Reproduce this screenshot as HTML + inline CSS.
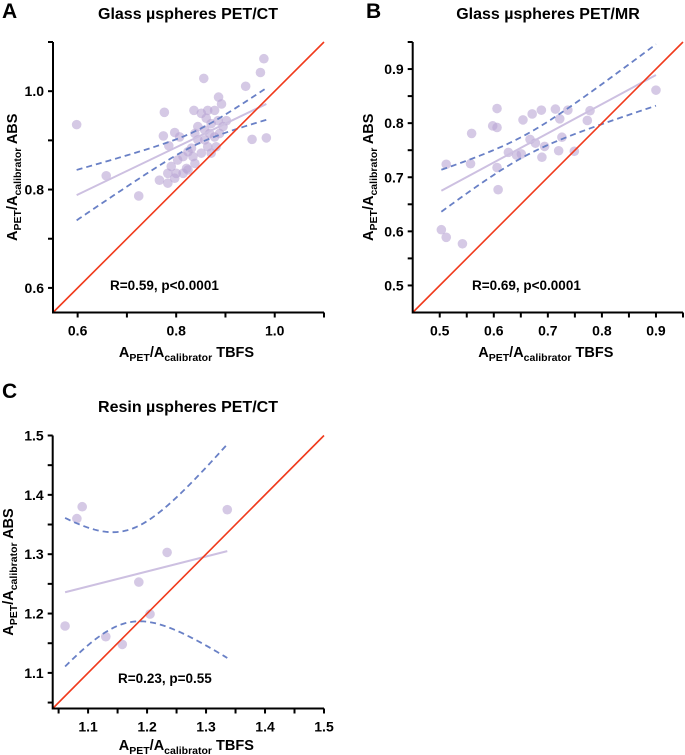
<!DOCTYPE html>
<html><head><meta charset="utf-8">
<style>
html,body{margin:0;padding:0;background:#fff;}
svg{display:block;font-family:"Liberation Sans",Arial,sans-serif;}
</style></head>
<body>
<svg id="fig" width="685" height="755" viewBox="0 0 685 755"></svg>
<script>
// Panel A data (Glass PET/CT)
const aX = [0.598,0.658,0.724,0.776,0.774,0.785,0.797,0.807,0.766,0.783,0.797,0.790,0.803,0.814,0.821,0.831,0.838,0.836,0.838,0.856,0.851,0.861,0.864,0.871,0.878,0.886,0.892,0.885,0.858,0.864,0.871,0.878,0.888,0.895,0.902,0.851,0.844,0.814,0.824,0.941,0.971,0.978,0.954,0.983,0.783,0.800,0.858,0.844,0.868,0.881,0.824,0.834];
const aY = [0.932,0.828,0.787,0.957,0.909,0.889,0.916,0.907,0.819,0.813,0.823,0.847,0.860,0.867,0.843,0.884,0.853,0.961,0.914,1.026,0.955,0.945,0.961,0.934,0.961,0.988,0.974,0.940,0.901,0.887,0.874,0.907,0.914,0.928,0.940,0.874,0.901,0.833,0.840,1.010,1.038,1.066,0.902,0.905,0.833,0.833,0.921,0.928,0.914,0.887,0.877,0.867];
// Panel B data (Glass PET/MR)
const bX = [0.503,0.512,0.542,0.512,0.557,0.559,0.598,0.606,0.606,0.606,0.608,0.627,0.642,0.651,0.654,0.667,0.677,0.671,0.688,0.689,0.694,0.714,0.720,0.722,0.726,0.737,0.749,0.773,0.778,0.900];
const bY = [0.603,0.589,0.577,0.724,0.725,0.781,0.795,0.792,0.827,0.718,0.677,0.746,0.741,0.743,0.806,0.770,0.763,0.817,0.824,0.737,0.757,0.826,0.749,0.808,0.774,0.824,0.748,0.805,0.823,0.861];
// Panel C data (Resin PET/CT)
const cX = [1.061,1.081,1.090,1.130,1.158,1.186,1.205,1.234,1.336];
const cY = [1.179,1.360,1.380,1.161,1.148,1.253,1.199,1.303,1.375];
// Annotations / ticks
const aXTicks = [0.6,0.8,1.0];
const aYTicks = [0.6,0.8,1.0];
const bXTicks = [0.5,0.6,0.7,0.8,0.9];
const bYTicks = [0.5,0.6,0.7,0.8,0.9];
const cXTicks = [1.1,1.2,1.3,1.4,1.5];
const cYTicks = [1.1,1.2,1.3,1.4,1.5];
const statsLabels = ["R=0.59, p<0.0001","R=0.69, p<0.0001","R=0.23, p=0.55"];

const NS="http://www.w3.org/2000/svg";
const svg=document.getElementById('fig');
function mk(tag,attrs,parent){const e=document.createElementNS(NS,tag);for(const k in attrs)e.setAttribute(k,attrs[k]);(parent||svg).appendChild(e);return e;}
function tval(df){const t={7:2.365,28:2.048,50:2.009};return t[df]||2.0;}

function panel(o){
  const g=mk('g',{});
  
  
  const sx=v=>o.x0+(v-o.min)/(o.max-o.min)*(o.x1-o.x0);
  const sy=v=>o.y0-(v-o.min)/(o.max-o.min)*(o.y0-o.y1);
  const L=mk('text',{x:o.lx,y:o.ly,'font-size':21,'font-weight':'bold'},g);L.textContent=o.letter;
  
  const T=mk('text',{x:o.tx,y:o.ty,'font-size':16,'font-weight':'bold','text-anchor':'middle'},g);T.textContent=o.title;
  
  const xs=o.xs,ys=o.ys,n=xs.length;
  const mx=xs.reduce((a,b)=>a+b)/n,my=ys.reduce((a,b)=>a+b)/n;
  let sxx=0,sxy=0;for(let i=0;i<n;i++){sxx+=(xs[i]-mx)**2;sxy+=(xs[i]-mx)*(ys[i]-my);}
  const b=sxy/sxx,a=my-b*mx;
  let sse=0;for(let i=0;i<n;i++)sse+=(ys[i]-a-b*xs[i])**2;
  const s=Math.sqrt(sse/(n-2)),t=tval(n-2);
  const xmin=Math.min(...xs),xmax=Math.max(...xs);
  for(let i=0;i<n;i++){
    const c=mk('circle',{cx:sx(xs[i]),cy:sy(ys[i]),r:4.8,fill:'rgb(185,165,212)','fill-opacity':0.6},g);
    
    
  }
  const f=mk('line',{x1:sx(xmin),y1:sy(a+b*xmin),x2:sx(xmax),y2:sy(a+b*xmax),stroke:'rgb(205,192,225)','stroke-width':2},g);
  
  
  [1,-1].forEach(sg=>{
    let d='';
    for(let k=0;k<=60;k++){const xv=xmin+(xmax-xmin)*k/60;const yv=a+b*xv+sg*t*s*Math.sqrt(1/n+(xv-mx)**2/sxx);d+=(k?'L':'M')+sx(xv).toFixed(2)+','+sy(yv).toFixed(2);}
    const p=mk('path',{d:d,fill:'none',stroke:'rgb(105,128,198)','stroke-width':1.8,'stroke-dasharray':'6,4'},g);
    
    
  });
  const id=mk('line',{x1:o.x0,y1:o.y0,x2:o.x1,y2:o.y1,stroke:'#f03a1c','stroke-width':1.6},g);
  
  
  const ax=mk('path',{d:`M${o.x0},${o.y1}V${o.y0}H${o.x1}`,fill:'none',stroke:'#000','stroke-width':2},g);
  
  
  for(let v=o.tickStart;v<=o.max+1e-9;v+=o.minor){
    const vv=Math.round(v*1000)/1000;
    mk('line',{x1:sx(vv),y1:o.y0,x2:sx(vv),y2:o.y0+5,stroke:'#000','stroke-width':2},g);
    mk('line',{x1:o.x0,y1:sy(vv),x2:o.x0-5,y2:sy(vv),stroke:'#000','stroke-width':2},g);
  }
  o.xt.forEach(v=>{const e=mk('text',{x:sx(v),y:o.y0+23,'font-size':14,'font-weight':'bold','text-anchor':'middle'},g);e.textContent=v.toFixed(1);
    });
  o.yt.forEach(v=>{const e=mk('text',{x:o.x0-9,y:sy(v)+5,'font-size':14,'font-weight':'bold','text-anchor':'end'},g);e.textContent=v.toFixed(1);
    });
  const st=mk('text',{x:o.sx,y:o.sy,'font-size':13.5,'font-weight':'bold'},g);st.textContent=o.stat;
  
  const xl=mk('text',{x:(o.x0+o.x1)/2-2,y:o.xly,'font-size':14.5,'font-weight':'bold','text-anchor':'middle'},g);
  xl.innerHTML='A<tspan font-size="10.5" dy="4">PET</tspan><tspan dy="-4">/A</tspan><tspan font-size="10.5" dy="4">calibrator</tspan><tspan dy="-4"> TBFS</tspan>';
  
  const yl=mk('text',{x:0,y:0,'font-size':14.5,'font-weight':'bold','text-anchor':'middle',transform:`translate(${o.ylx},${(o.y0+o.y1)/2}) rotate(-90)`},g);
  yl.innerHTML='A<tspan font-size="10.5" dy="4">PET</tspan><tspan dy="-4">/A</tspan><tspan font-size="10.5" dy="4">calibrator</tspan><tspan dy="-4"> ABS</tspan>';
  
}

panel({name:'panel-a',letter:'A',lx:2,ly:18,title:'Glass µspheres PET/CT',tx:188,ty:19,
  x0:53,x1:324,y0:312.5,y1:42,min:0.55,max:1.1,tickStart:0.6,minor:0.1,
  xs:aX,ys:aY,xt:aXTicks,yt:aYTicks,stat:statsLabels[0],sx:110,sy:290,xly:357,ylx:17});
panel({name:'panel-b',letter:'B',lx:366,ly:18,title:'Glass µspheres PET/MR',tx:548,ty:19,
  x0:412.7,x1:683,y0:312.5,y1:42,min:0.45,max:0.95,tickStart:0.5,minor:0.05,
  xs:bX,ys:bY,xt:bXTicks,yt:bYTicks,stat:statsLabels[1],sx:472,sy:290,xly:357,ylx:373});
panel({name:'panel-c',letter:'C',lx:2,ly:398,title:'Resin µspheres PET/CT',tx:188,ty:412,
  x0:52.7,x1:324,y0:708.5,y1:435.5,min:1.04,max:1.5,tickStart:1.05,minor:0.05,
  xs:cX,ys:cY,xt:cXTicks,yt:cYTicks,stat:statsLabels[2],sx:118,sy:683,xly:750,ylx:13});
</script>
</body></html>
